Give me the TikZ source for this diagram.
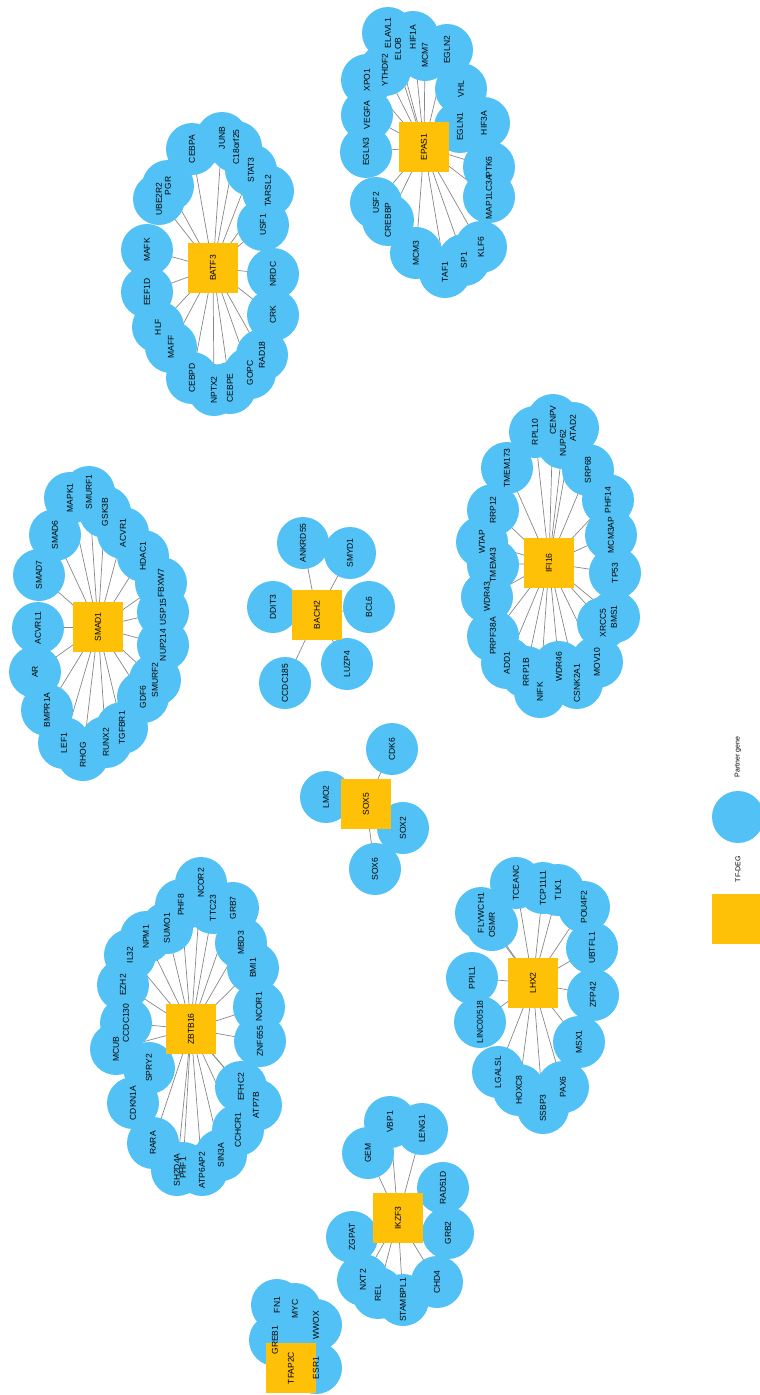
\documentclass[tikz,border=0pt]{standalone}
\usepackage{fontspec}
\setmainfont{Liberation Sans}
\pgfdeclarelayer{bg}
\pgfdeclarelayer{fg}
\pgfsetlayers{bg,main,fg}
\definecolor{partner}{RGB}{82,194,246}
\definecolor{tfdeg}{RGB}{255,193,7}
\definecolor{edgegray}{RGB}{135,135,135}
\tikzset{
  gene/.style={circle,fill=partner,draw=none,minimum size=52pt,inner sep=0pt},
  tf/.style={rectangle,fill=tfdeg,draw=none,minimum size=50pt,inner sep=0pt,rotate=90,font=\fontsize{8.5}{10}\selectfont},
  lbl/.style={rotate=90,inner sep=0pt,font=\fontsize{8.5}{10}\selectfont},
  leglbl/.style={rotate=90,inner sep=0pt,font=\fontsize{7}{8}\selectfont},
  edge/.style={draw=edgegray,line width=0.7pt}
}
\newcommand{\gn}[3]{%
  \node[gene] (#1) at (#2,#3) {};
  \begin{pgfonlayer}{fg}\node[lbl] at (#1) {#1};\end{pgfonlayer}}
\newcommand{\links}[2]{%
  \begin{pgfonlayer}{bg}
  \foreach \g in {#2} {\draw[edge] (#1.center) -- (\g.center);}
  \end{pgfonlayer}}
\begin{document}
\begin{tikzpicture}[x=1pt,y=-1pt]
\useasboundingbox (0,0) rectangle (760,1395);
% ---------------- EPAS1 ----------------
\gn{ELAVL1}{388}{33}
\gn{HIF1A}{413}{37}
\gn{ELOB}{398}{49}
\gn{MCM7}{425}{55}
\gn{EGLN2}{447}{50}
\gn{YTHDF2}{385}{70}
\gn{XPO1}{367}{80}
\gn{VHL}{461}{89}
\gn{VEGFA}{367}{115}
\gn{EGLN1}{460}{127}
\gn{HIF3A}{484}{123}
\gn{EGLN3}{366}{152}
\gn{PTK6}{489}{167}
\gn{MAP1LC3A}{489}{197}
\gn{USF2}{376}{203}
\gn{CREBBP}{388}{220}
\gn{KLF6}{481}{247}
\gn{MCM3}{416}{253}
\gn{SP1}{464}{260}
\gn{TAF1}{445}{272}
% ---------------- BATF3 ----------------
\gn{JUNB}{222}{138}
\gn{C18orf25}{236}{147}
\gn{CEBPA}{192}{149}
\gn{STAT3}{251}{170}
\gn{UBE2R2}{159}{199}
\gn{PGR}{168}{186}
\gn{TARSL2}{268}{191}
\gn{USF1}{263}{225}
\gn{MAFK}{147}{250}
\gn{NRDC}{273}{274}
\gn{EEF1D}{147}{292}
\gn{CRK}{273}{315}
\gn{HLF}{158}{327}
\gn{MAFF}{171}{347}
\gn{RAD18}{262}{355}
\gn{GOPC}{250}{373}
\gn{CEBPD}{192}{378}
\gn{NPTX2}{214}{390}
\gn{CEBPE}{230}{388}
% ---------------- SMAD1 ----------------
\gn{SMURF1}{89}{492}
\gn{MAPK1}{70}{498}
\gn{GSK3B}{105}{512}
\gn{SMAD6}{55}{535}
\gn{ACVR1}{123}{533}
\gn{HDAC1}{143}{556}
\gn{SMAD7}{39}{575}
\gn{FBXW7}{161}{583}
\gn{USP15}{163}{612}
\gn{ACVRL1}{38}{628}
\gn{NUP214}{163}{645}
\gn{AR}{35}{672}
\gn{SMURF2}{155}{680}
\gn{GDF6}{143}{697}
\gn{BMPR1A}{47}{710}
\gn{LEF1}{64}{743}
\gn{TGFBR1}{122}{728}
\gn{RUNX2}{106}{742}
\gn{RHOG}{83}{755}
% ---------------- IFI16 ----------------
\gn{CENPV}{553}{420}
\gn{RPL10}{535}{432}
\gn{ATAD2}{573}{428}
\gn{NUP62}{563}{443}
\gn{TMEM173}{507}{468}
\gn{SRP68}{588}{470}
\gn{RRP12}{493}{510}
\gn{PHF14}{608}{500}
\gn{MCM3AP}{611}{535}
\gn{WTAP}{482}{542}
\gn{TMEM43}{493}{565}
\gn{TP53}{615}{573}
\gn{WDR43}{487}{597}
\gn{XRCC5}{603}{623}
\gn{BMS1}{614}{617}
\gn{PRPF38A}{493}{636}
\gn{MOV10}{597}{662}
\gn{ADD1}{507}{663}
\gn{WDR46}{559}{667}
\gn{RRP1B}{526}{672}
\gn{CSNK2A1}{577}{683}
\gn{NIFK}{540}{692}
% ---------------- BACH2 ----------------
\gn{ANKRD55}{303}{543}
\gn{SMYD1}{350}{553}
\gn{DDIT3}{273}{607}
\gn{BCL6}{369}{607}
\gn{LUZP4}{347}{664}
\gn{CCDC185}{285}{683}
% ---------------- SOX5 ----------------
\gn{CDK6}{392}{749}
\gn{LMO2}{326}{797}
\gn{SOX2}{403}{828}
\gn{SOX6}{375}{869}
% ---------------- LHX2 ----------------
\gn{TCEANC}{516}{883}
\gn{TCP11L1}{543}{888}
\gn{TLK1}{558}{890}
\gn{FLYWCH1}{481}{913}
\gn{OSMR}{492}{925}
\gn{POU4F2}{584}{907}
\gn{UBTFL1}{592}{948}
\gn{PPIL1}{472}{978}
\gn{ZFP42}{593}{995}
\gn{LINC00518}{480}{1022}
\gn{MSX1}{579}{1042}
\gn{LGALSL}{498}{1072}
\gn{PAX6}{563}{1087}
\gn{HOXC8}{519}{1090}
\gn{SSBP3}{543}{1108}
% ---------------- ZBTB16 ----------------
\gn{NCOR2}{201}{883}
\gn{PHF8}{181}{905}
\gn{TTC23}{213}{908}
\gn{SUMO1}{167}{928}
\gn{GRB7}{233}{908}
\gn{NPM1}{146}{937}
\gn{MBD3}{241}{943}
\gn{IL32}{130}{955}
\gn{BMI1}{253}{968}
\gn{EZH2}{123}{985}
\gn{NCOR1}{259}{1007}
\gn{CCDC130}{126}{1023}
\gn{ZNF655}{260}{1041}
\gn{MCUB}{116}{1049}
\gn{SPRY2}{149}{1068}
\gn{EFHC2}{241}{1087}
\gn{CDKN1A}{133}{1103}
\gn{ATP7B}{256}{1105}
\gn{CCHCR1}{238}{1130}
\gn{RARA}{153}{1143}
\gn{SIN3A}{221}{1155}
\gn{SH2D4A}{177}{1170}
\gn{PHF1}{183}{1168}
\gn{ATP6AP2}{202}{1170}
% ---------------- IKZF3 ----------------
\gn{VBP1}{390}{1122}
\gn{LENG1}{422}{1129}
\gn{GEM}{368}{1153}
\gn{RAD51D}{443}{1188}
\gn{ZGPAT}{352}{1237}
\gn{GRB2}{448}{1233}
\gn{NXT2}{363}{1280}
\gn{REL}{378}{1293}
\gn{CHD4}{437}{1282}
\gn{STAMBPL1}{403}{1300}
% ---------------- TFAP2C ----------------
\gn{FN1}{277}{1305}
\gn{MYC}{295}{1309}
\gn{GREB1}{275}{1340}
\gn{WWOX}{316}{1325}
\gn{ESR1}{316}{1368}
% ---------------- TF-DEG squares ----------------
\node[tf] (EPAS1) at (424,147) {EPAS1};
\node[tf] (BATF3) at (213,268) {BATF3};
\node[tf] (SMAD1) at (98,627) {SMAD1};
\node[tf] (IFI16) at (549,563) {IFI16};
\node[tf] (BACH2) at (317,615) {BACH2};
\node[tf] (SOX5) at (366,804) {SOX5};
\node[tf] (LHX2) at (533,983) {LHX2};
\node[tf] (ZBTB16) at (191,1029) {ZBTB16};
\node[tf] (IKZF3) at (398,1218) {IKZF3};
\node[tf] (TFAP2C) at (291,1368) {TFAP2C};
% ---------------- edges ----------------
\links{EPAS1}{ELAVL1,HIF1A,ELOB,MCM7,EGLN2,YTHDF2,XPO1,VHL,VEGFA,EGLN1,HIF3A,EGLN3,PTK6,MAP1LC3A,USF2,CREBBP,KLF6,MCM3,SP1,TAF1}
\links{BATF3}{JUNB,C18orf25,CEBPA,STAT3,UBE2R2,PGR,TARSL2,USF1,MAFK,NRDC,EEF1D,CRK,HLF,MAFF,RAD18,GOPC,CEBPD,NPTX2,CEBPE}
\links{SMAD1}{SMURF1,MAPK1,GSK3B,SMAD6,ACVR1,HDAC1,SMAD7,FBXW7,USP15,ACVRL1,NUP214,AR,SMURF2,GDF6,BMPR1A,LEF1,TGFBR1,RUNX2,RHOG}
\links{IFI16}{CENPV,RPL10,ATAD2,NUP62,TMEM173,SRP68,RRP12,PHF14,MCM3AP,WTAP,TMEM43,TP53,WDR43,XRCC5,BMS1,PRPF38A,MOV10,ADD1,WDR46,RRP1B,CSNK2A1,NIFK}
\links{BACH2}{ANKRD55,SMYD1,DDIT3,BCL6,LUZP4,CCDC185}
\links{SOX5}{CDK6,LMO2,SOX2,SOX6}
\links{LHX2}{TCEANC,TCP11L1,TLK1,FLYWCH1,OSMR,POU4F2,UBTFL1,PPIL1,ZFP42,LINC00518,MSX1,LGALSL,PAX6,HOXC8,SSBP3}
\links{ZBTB16}{NCOR2,PHF8,TTC23,SUMO1,GRB7,NPM1,MBD3,IL32,BMI1,EZH2,NCOR1,CCDC130,ZNF655,MCUB,SPRY2,EFHC2,CDKN1A,ATP7B,CCHCR1,RARA,SIN3A,SH2D4A,PHF1,ATP6AP2}
\links{IKZF3}{VBP1,LENG1,GEM,RAD51D,ZGPAT,GRB2,NXT2,REL,CHD4,STAMBPL1}
\links{TFAP2C}{FN1,MYC,GREB1,WWOX,ESR1}
% ---------------- legend ----------------
\node[leglbl] (legpartnerlbl) at (738,757) {Partner gene};
\node[gene] (legpartner) at (738,817) {};
\node[leglbl] (legtflbl) at (738,869) {TF-DEG};
\node[rectangle,fill=tfdeg,minimum size=50pt,inner sep=0pt] (legtf) at (737,919) {};
\end{tikzpicture}
\end{document}
